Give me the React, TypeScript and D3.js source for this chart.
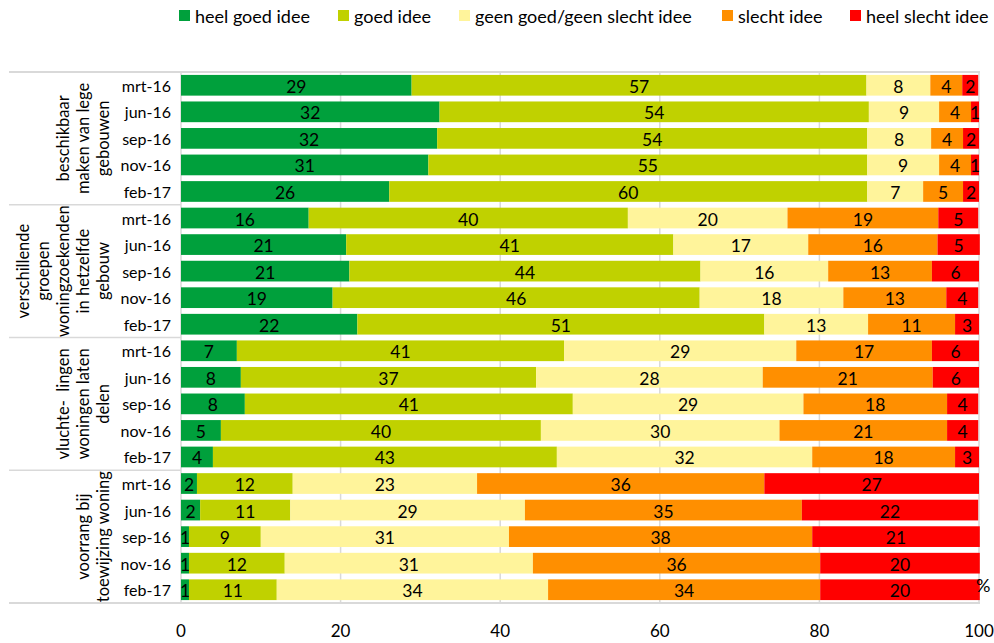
import React from "react";
import * as d3 from "d3";

const series = ["heel goed idee", "goed idee", "geen goed/geen slecht idee", "slecht idee", "heel slecht idee"];
const colors = ["#00A03C", "#C0D100", "#FFF49B", "#FF8F00", "#FF0000"];
const periods = ["mrt-16", "jun-16", "sep-16", "nov-16", "feb-17"];
const groups = [
  ["beschikbaar", "maken van lege", "gebouwen"],
  ["verschillende", "groepen", "woningzoekenden", "in hetzelfde", "gebouw"],
  ["vluchte-  lingen", "woningen laten", "delen"],
  ["voorrang bij", "toewijzing woning"],
];
const heelGoed = [28.9, 32.4, 32.1, 31.0, 26.1, 16.0, 20.7, 21.1, 19.0, 22.1, 7.0, 7.5, 8.0, 5.0, 4.0, 2.0, 2.4, 1.0, 1.0, 1.0];
const goed = [57.0, 53.8, 53.9, 55.0, 59.9, 40.0, 41.0, 44.0, 46.0, 51.0, 41.0, 37.0, 41.1, 40.1, 43.1, 12.0, 11.3, 9.0, 12.0, 11.0];
const geen = [8.0, 8.8, 8.0, 9.0, 7.0, 20.0, 16.9, 16.0, 18.0, 13.0, 29.1, 28.4, 28.9, 29.9, 32.0, 23.1, 29.4, 31.1, 31.1, 34.0];
const slecht = [4.0, 4.0, 4.0, 4.0, 5.0, 18.9, 16.2, 13.0, 12.9, 10.9, 17.0, 21.3, 18.0, 21.0, 17.9, 36.0, 34.7, 38.0, 36.0, 34.1];
const heelSlecht = [2.0, 1.0, 2.0, 1.0, 2.0, 5.0, 5.3, 5.9, 4.0, 3.0, 5.9, 5.8, 3.9, 3.9, 3.0, 26.9, 22.1, 21.0, 20.0, 20.0];
const xTicks = [0, 20, 40, 60, 80, 100];

const FONT = "Lato, 'Open Sans', sans-serif";

export default function App() {
  const left = 181, right = 979, top = 72, bottom = 603;
  const rows = d3.range(20);
  const x = d3.scaleLinear().domain([0, 100]).range([left, right]);
  const y = d3.scaleBand<number>().domain(rows).range([top, bottom]).paddingInner(0.22).paddingOuter(0.11);
  const step = y.step();
  const all = [heelGoed, goed, geen, slecht, heelSlecht];
  const tableRows = rows.map((i) => {
    const o: any = { i };
    series.forEach((s, k) => (o[s] = all[k][i]));
    return o;
  });
  const stacked = d3.stack<any>().keys(series)(tableRows);
  const fmt = d3.format(".0f");
  const legendX = [179, 338, 459, 722, 850];

  return (
    <svg width={994} height={643} style={{ position: "absolute", left: 0, top: 0, fontFamily: FONT }}>
      <rect width={994} height={643} fill="#fff" />
      {/* legend */}
      {series.map((s, k) => (
        <g key={s} transform={`translate(${legendX[k]},0)`}>
          <rect x={0} y={10} width={11} height={11} fill={colors[k]} />
          <text x={16} y={16} dominantBaseline="central" fontSize={18} fill="#000">{s}</text>
        </g>
      ))}
      {/* grid */}
      {xTicks.map((t) => (
        <line key={t} x1={x(t)} x2={x(t)} y1={top} y2={bottom} stroke="#d9d9d9" strokeWidth={1.5} />
      ))}
      <line x1={9} x2={right + 1} y1={top} y2={top} stroke="#d9d9d9" strokeWidth={2} />
      <line x1={9} x2={right + 1} y1={bottom} y2={bottom} stroke="#d9d9d9" strokeWidth={2} />
      {[1, 2, 3].map((g) => (
        <line key={g} x1={9} x2={left} y1={top + g * 5 * step} y2={top + g * 5 * step} stroke="#d9d9d9" strokeWidth={1.5} />
      ))}
      {/* bars */}
      {stacked.map((layer, k) => (
        <g key={layer.key}>
          {layer.map((d, i) => {
            const x0 = x(d[0]), x1 = x(d[1]);
            const v = d[1] - d[0];
            return (
              <g key={i}>
                <rect x={x0} y={y(i)} width={x1 - x0} height={y.bandwidth()} fill={colors[k]} />
                <text x={(x0 + x1) / 2} y={(y(i) as number) + y.bandwidth() / 2 + 1} textAnchor="middle" dominantBaseline="central" fontSize={17.5} fill="#000">
                  {fmt(v)}
                </text>
              </g>
            );
          })}
        </g>
      ))}
      {/* period labels */}
      {rows.map((i) => (
        <text key={i} x={171} y={(y(i) as number) + y.bandwidth() / 2} textAnchor="end" dominantBaseline="central" fontSize={16} fill="#000">
          {periods[i % 5]}
        </text>
      ))}
      {/* group labels */}
      {groups.map((lines, g) => {
        const cy = top + (g * 5 + 2.5) * step;
        return lines.map((ln, j) => {
          const lx = 103 - (lines.length - 1 - j) * 20;
          return (
            <text key={g + "-" + j} transform={`translate(${lx},${cy}) rotate(-90)`} textAnchor="middle" dominantBaseline="central" fontSize={16.5} fill="#000" style={{ whiteSpace: "pre" }}>
              {ln}
            </text>
          );
        });
      })}
      {/* x ticks */}
      {xTicks.map((t) => (
        <text key={t} x={x(t)} y={630} textAnchor="middle" dominantBaseline="central" fontSize={17} fill="#000">{t}</text>
      ))}
      <text x={976} y={585} dominantBaseline="central" fontSize={18} fill="#000">%</text>
    </svg>
  );
}
